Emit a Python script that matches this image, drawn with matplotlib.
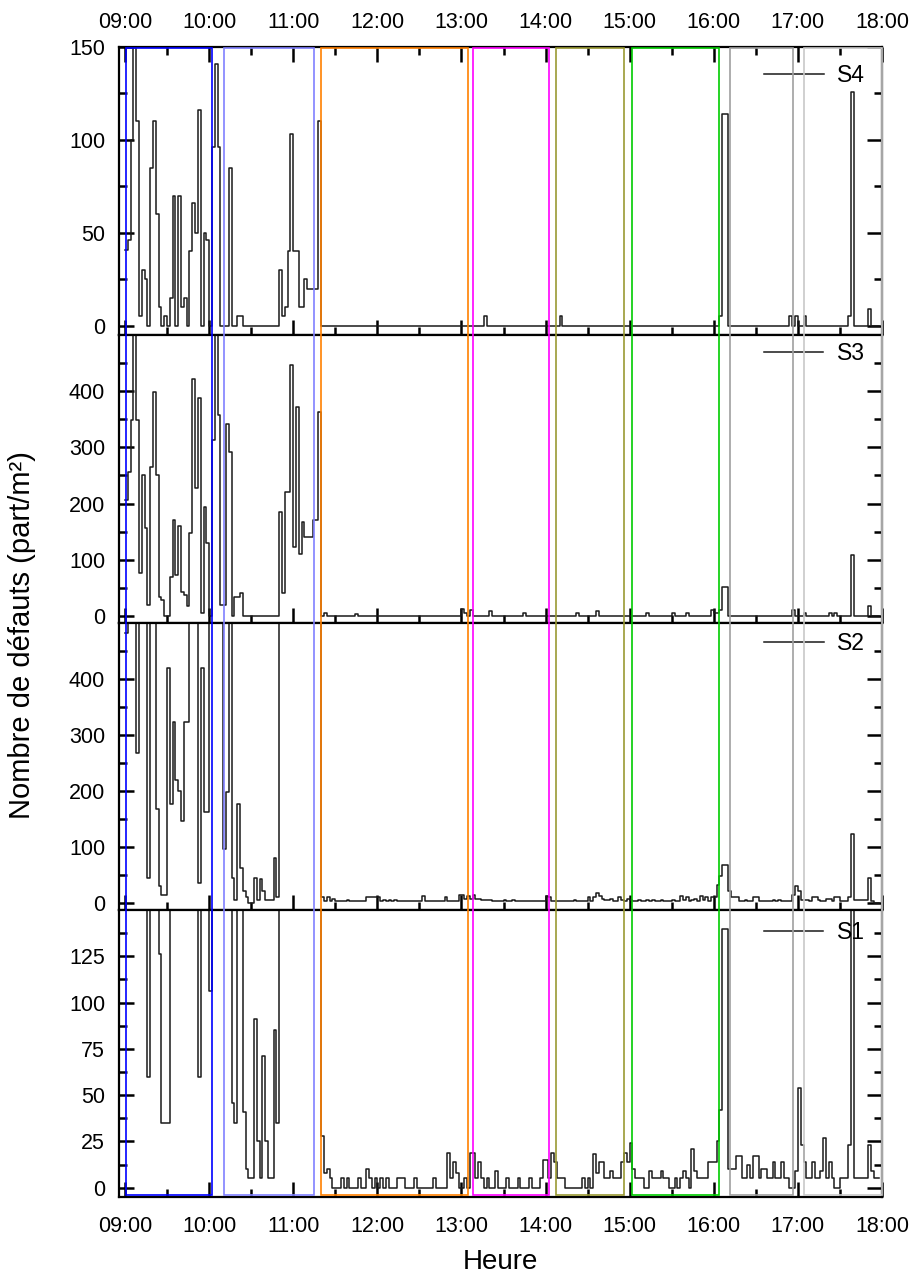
import numpy as np
import matplotlib.pyplot as plt
import matplotlib.transforms as mtransforms
from matplotlib.patches import Rectangle
from matplotlib.ticker import FixedLocator, FuncFormatter

plt.rcParams['font.family'] = ['Liberation Sans', 'DejaVu Sans']

# one sample every 2 min from 09:00, one row per hour (30 values)
minutes = np.arange(0, 540, 2)

s1 = (
    [160, 160, 160, 160, 160, 160, 160, 160, 60, 160, 160, 160, 126, 35, 35, 35, 160, 160, 160, 160, 160, 160, 160, 160, 160, 160, 60, 160, 160, 160] +
    [106, 160, 160, 160, 160, 160, 160, 160, 46, 35, 160, 160, 41, 10, 5, 5, 91, 25, 5, 71, 25, 5, 5, 85, 35, 160, 160, 160, 160, 160] +
    [160, 160, 160, 160, 160, 160, 160, 160, 160, 160, 28, 8, 10, 5, 0, 0, 0, 5, 0, 5, 0, 0, 0, 5, 0, 0, 10, 5, 0, 5] +
    [0, 5, 0, 5, 0, 0, 0, 5, 5, 5, 0, 0, 0, 5, 0, 0, 0, 0, 0, 0, 5, 0, 0, 0, 0, 19, 5, 14, 8, 0] +
    [0, 5, 0, 19, 19, 5, 14, 5, 0, 5, 0, 0, 9, 0, 0, 0, 5, 0, 0, 0, 5, 0, 0, 0, 5, 0, 0, 0, 5, 15] +
    [15, 5, 19, 14, 5, 5, 5, 0, 0, 0, 0, 0, 0, 5, 0, 5, 0, 18, 8, 14, 14, 5, 5, 9, 5, 5, 5, 14, 19, 14] +
    [24, 10, 5, 5, 5, 0, 0, 9, 5, 5, 5, 9, 5, 5, 0, 0, 5, 0, 5, 9, 5, 0, 21, 9, 5, 5, 5, 5, 14, 14] +
    [14, 25, 42, 140, 140, 10, 10, 10, 17, 17, 5, 5, 12, 5, 17, 17, 5, 10, 10, 5, 5, 14, 5, 5, 14, 5, 5, 0, 0, 9] +
    [54, 23, 14, 5, 5, 14, 5, 5, 9, 27, 5, 14, 5, 0, 0, 5, 5, 5, 23, 160, 5, 5, 5, 5, 5, 23, 9, 5, 5, 5]
)

s2 = (
    [482, 560, 560, 560, 267, 560, 560, 560, 45, 560, 560, 168, 30, 15, 15, 419, 177, 324, 219, 200, 147, 324, 324, 560, 560, 560, 36, 419, 162, 162] +
    [560, 560, 560, 560, 560, 96, 198, 560, 45, 6, 177, 63, 21, 10, 0, 0, 45, 6, 42, 21, 6, 6, 6, 81, 10, 560, 560, 560, 560, 560] +
    [560, 560, 560, 560, 560, 560, 560, 560, 560, 560, 10, 4, 10, 4, 8, 3, 3, 3, 3, 6, 3, 3, 3, 3, 3, 3, 10, 10, 10, 10] +
    [10, 3, 6, 3, 6, 3, 6, 3, 3, 3, 3, 3, 3, 3, 3, 3, 12, 3, 3, 3, 3, 3, 3, 3, 10, 3, 3, 3, 3, 15] +
    [15, 8, 12, 8, 15, 8, 8, 6, 6, 6, 6, 3, 3, 3, 3, 6, 3, 3, 6, 3, 3, 3, 3, 3, 3, 3, 3, 3, 3, 3] +
    [12, 10, 3, 3, 3, 3, 3, 3, 3, 3, 6, 3, 3, 3, 3, 10, 3, 10, 18, 12, 8, 6, 6, 8, 3, 3, 10, 6, 3, 8] +
    [6, 3, 3, 6, 3, 3, 6, 3, 6, 3, 3, 6, 3, 3, 3, 6, 3, 3, 12, 6, 10, 3, 6, 8, 3, 12, 6, 10, 3, 10] +
    [10, 33, 48, 68, 68, 21, 10, 10, 10, 3, 3, 6, 3, 3, 10, 10, 3, 3, 3, 3, 3, 6, 3, 6, 3, 3, 3, 3, 15, 30] +
    [21, 6, 6, 6, 3, 10, 10, 6, 3, 3, 8, 8, 3, 10, 10, 3, 3, 3, 10, 123, 6, 6, 6, 6, 6, 45, 3, 0, 0, 0]
)

s3 = (
    [206, 257, 348, 520, 348, 76, 250, 156, 20, 265, 399, 250, 34, 28, 0, 0, 70, 170, 73, 160, 43, 37, 17, 147, 422, 227, 387, 5, 194, 129] +
    [0, 313, 520, 357, 20, 20, 342, 292, 0, 34, 34, 40, 0, 0, 0, 0, 0, 0, 0, 0, 0, 0, 0, 0, 0, 185, 40, 221, 221, 446] +
    [123, 371, 111, 168, 141, 141, 141, 171, 171, 363, 0, 5, 0, 0, 0, 0, 0, 0, 0, 0, 0, 0, 3, 0, 0, 0, 0, 0, 0, 0] +
    [0, 0, 0, 0, 0, 0, 0, 0, 0, 0, 0, 0, 0, 0, 0, 0, 0, 0, 0, 0, 0, 0, 0, 0, 0, 0, 0, 0, 0, 0] +
    [12, 6, 0, 10, 0, 0, 0, 0, 0, 0, 8, 0, 0, 0, 0, 0, 0, 0, 0, 0, 0, 0, 5, 0, 0, 0, 0, 0, 0, 0] +
    [0, 0, 0, 0, 0, 0, 0, 0, 0, 0, 0, 5, 0, 0, 0, 0, 0, 0, 8, 0, 0, 0, 0, 0, 0, 0, 0, 0, 0, 0] +
    [0, 0, 0, 0, 0, 0, 5, 0, 0, 0, 0, 0, 0, 0, 0, 5, 0, 0, 0, 0, 5, 0, 0, 0, 0, 0, 0, 0, 0, 10] +
    [5, 5, 10, 52, 52, 0, 0, 0, 0, 0, 0, 0, 0, 0, 0, 0, 0, 0, 0, 0, 0, 0, 0, 0, 0, 0, 0, 0, 10, 0] +
    [0, 0, 5, 0, 0, 0, 0, 0, 0, 0, 0, 5, 0, 5, 0, 0, 0, 0, 0, 108, 0, 0, 0, 0, 0, 17, 0, 0, 0, 0]
)

s4 = (
    [41, 46, 100, 160, 110, 5, 30, 25, 0, 85, 110, 60, 10, 0, 5, 0, 15, 70, 0, 70, 10, 15, 0, 40, 66, 50, 116, 0, 50, 46] +
    [0, 96, 141, 96, 0, 0, 0, 85, 0, 0, 5, 5, 0, 0, 0, 0, 0, 0, 0, 0, 0, 0, 0, 0, 0, 30, 5, 10, 40, 103] +
    [40, 40, 10, 10, 25, 20, 20, 20, 20, 110, 0, 0, 0, 0, 0, 0, 0, 0, 0, 0, 0, 0, 0, 0, 0, 0, 0, 0, 0, 0] +
    [0, 0, 0, 0, 0, 0, 0, 0, 0, 0, 0, 0, 0, 0, 0, 0, 0, 0, 0, 0, 0, 0, 0, 0, 0, 0, 0, 0, 0, 0] +
    [0, 0, 0, 0, 0, 0, 0, 0, 5, 0, 0, 0, 0, 0, 0, 0, 0, 0, 0, 0, 0, 0, 0, 0, 0, 0, 0, 0, 0, 0] +
    [0, 0, 0, 0, 0, 5, 0, 0, 0, 0, 0, 0, 0, 0, 0, 0, 0, 0, 0, 0, 0, 0, 0, 0, 0, 0, 0, 0, 0, 0] +
    [0, 0, 0, 0, 0, 0, 0, 0, 0, 0, 0, 0, 0, 0, 0, 0, 0, 0, 0, 0, 0, 0, 0, 0, 0, 0, 0, 0, 0, 0] +
    [0, 0, 5, 114, 114, 0, 0, 0, 0, 0, 0, 0, 0, 0, 0, 0, 0, 0, 0, 0, 0, 0, 0, 0, 0, 0, 0, 5, 0, 5] +
    [0, 0, 5, 0, 0, 0, 0, 0, 0, 0, 0, 0, 0, 0, 0, 0, 0, 0, 5, 126, 0, 0, 0, 0, 0, 9, 0, 0, 0, 0]
)

series = ['S4', 'S3', 'S2', 'S1']
values = [s4, s3, s2, s1]
ylims = [(-5, 150), (-12.5, 500), (-12.5, 500), (-5, 150)]
major_ticks = [[0, 50, 100, 150], [0, 100, 200, 300, 400], [0, 100, 200, 300, 400], [0, 25, 50, 75, 100, 125]]
minor_ticks = [[25, 75, 125], [50, 150, 250, 350, 450], [50, 150, 250, 350, 450],
               [12.5, 37.5, 62.5, 87.5, 112.5, 137.5]]
legend_y = [0.90, 0.935, 0.93, 0.92]

# time boxes (start, end in hours) and their colours
box_start = [9.012, 10.179, 11.333, 13.143, 14.119, 15.024, 16.19, 17.07]
box_end = [10.036, 11.25, 13.083, 14.036, 14.929, 16.06, 16.94, 18.0]
box_colors = ['#0000ff', '#8080ff', '#ff8000', '#ff00ff', '#999933', '#00cc00', '#a0a0a0', '#c8c8c8']

hours = 9 + minutes / 60.0

fig = plt.figure(figsize=(9.14, 12.81), dpi=100)
left, width = 0.1302, 0.8348
edges = [0.9633, 0.7385, 0.5137, 0.2896, 0.0656]

hfmt = FuncFormatter(lambda h, pos: f'{int(round(h)):02d}:00')

axes = []
for i, name in enumerate(series):
    ax = fig.add_axes([left, edges[i + 1], width, edges[i] - edges[i + 1]])
    ax.plot(hours, values[i], drawstyle='steps-post', color='#1a1a1a', lw=1.1, label=name)
    ax.set_xlim(9 - 6 / 84, 18)
    ax.set_ylim(*ylims[i])
    ax.xaxis.set_major_locator(FixedLocator(np.arange(9, 19, 1)))
    ax.xaxis.set_minor_locator(FixedLocator(np.arange(9.5, 18, 1)))
    ax.xaxis.set_major_formatter(hfmt)
    ax.yaxis.set_major_locator(FixedLocator(major_ticks[i]))
    ax.yaxis.set_minor_locator(FixedLocator(minor_ticks[i]))
    ax.tick_params(which='both', direction='in', width=1.8, labelsize=15.5,
                   left=True, right=True, bottom=True, top=(i == 0),
                   labelbottom=(i == 3), labeltop=(i == 0))
    ax.tick_params(which='major', length=11)
    ax.tick_params(which='minor', length=6)
    ax.tick_params(axis='y', which='major', pad=10)
    ax.tick_params(axis='x', which='major', pad=(10 if i == 0 else 14))
    for sp in ax.spines.values():
        sp.set_linewidth(1.6)
    ax.legend(loc='center right', bbox_to_anchor=(0.978, legend_y[i]), frameon=False,
              fontsize=16.5, handlelength=2.6, handletextpad=0.6, borderpad=0, borderaxespad=0)
    axes.append(ax)

trans = mtransforms.blended_transform_factory(axes[-1].transData, fig.transFigure)
y0, y1 = 0.0671, 0.9625
for xs, xe, c in zip(box_start, box_end, box_colors):
    fig.add_artist(Rectangle((xs, y0), xe - xs, y1 - y0, transform=trans,
                             fill=False, edgecolor=c, lw=1.2))

fig.text(0.024, 0.504, 'Nombre de défauts (part/m²)', rotation=90, va='center', ha='center', fontsize=21)
fig.text(0.547, 0.0148, 'Heure', va='center', ha='center', fontsize=20)

fig.savefig('out.png', dpi=100)
